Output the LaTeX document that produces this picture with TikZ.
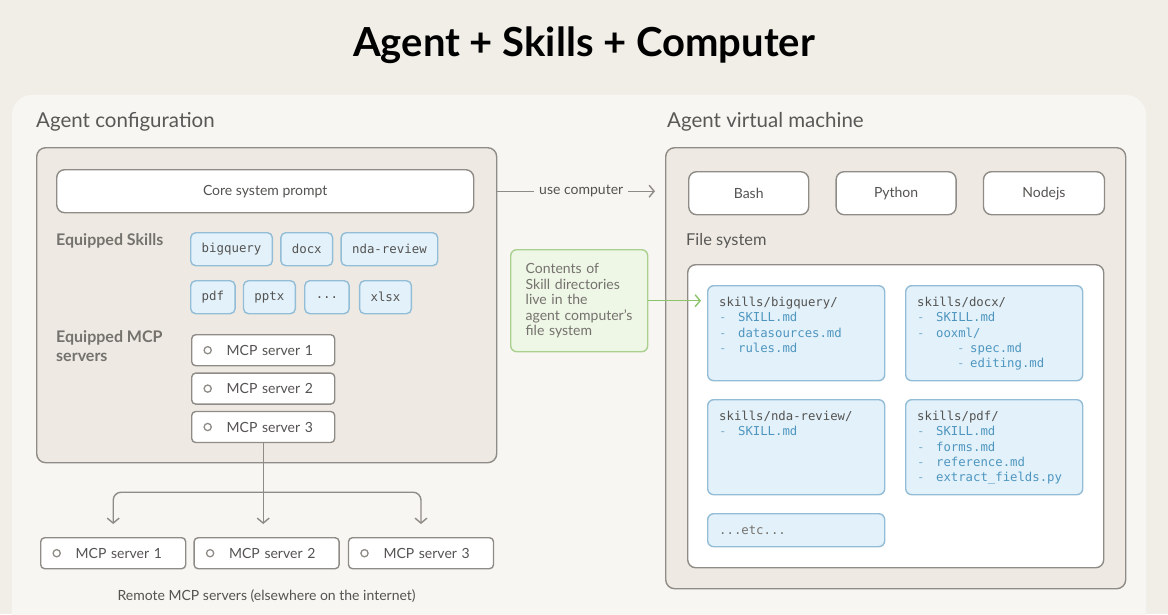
\documentclass[tikz,border=0pt]{standalone}
\usepackage{fontspec}
\setmainfont{Lato}
\setmonofont{DejaVu Sans Mono}
\usetikzlibrary{arrows.meta, positioning}
\definecolor{skouter}{HTML}{F1EEE8}
\definecolor{skpanelbg}{HTML}{F8F6F2}
\definecolor{skbox}{HTML}{EEEAE3}
\definecolor{skline}{HTML}{8F8C87}
\definecolor{sktext}{HTML}{545351}
\definecolor{skhead}{HTML}{595856}
\definecolor{sklabel}{HTML}{74726D}
\definecolor{skchip}{HTML}{E2F1FA}
\definecolor{skchipline}{HTML}{93BDD6}
\definecolor{skfile}{HTML}{4F96BF}
\definecolor{skdash}{HTML}{7DB0CF}
\definecolor{skgreen}{HTML}{EEF6E6}
\definecolor{skgreenline}{HTML}{A9D08F}
\definecolor{skgreenarrow}{HTML}{8CC46C}
\tikzset{
  >={Straight Barb[length=5pt, width=12pt]},
  box/.style={rectangle, rounded corners=8pt, draw=skline, fill=white, line width=1.4pt,
              align=center, inner sep=0pt, text=sktext, font=\fontsize{14}{16}\selectfont},
  frame/.style={box, fill=skbox, rounded corners=9pt, anchor=north west},
  tool/.style={box, minimum width=120pt, minimum height=43pt},
  chip/.style={box, rounded corners=5pt, draw=skchipline, fill=skchip, minimum height=33pt,
               inner xsep=11pt, font=\ttfamily\fontsize{12.4}{14}\selectfont},
  mcp/.style={box, rounded corners=4pt, minimum height=31pt, text width=123pt, inner xsep=10pt,
              align=left, path picture={\draw[skline, line width=1.3pt]
              ([xshift=16pt]path picture bounding box.west) circle (3.6pt);}},
  tree/.style={box, rounded corners=6pt, draw=skchipline, fill=skchip, minimum width=177pt,
               anchor=north west},
  treetext/.style={anchor=north west, inner sep=0pt, align=left, text=sktext,
                   font=\ttfamily\fontsize{12.3}{15.3}\selectfont},
  heading/.style={inner sep=0pt, text=skhead, font=\fontsize{20.5}{24}\selectfont},
  lbl/.style={inner sep=0pt, align=left, text=sklabel, font=\bfseries\fontsize{16}{19}\selectfont},
  flow/.style={->, line width=1.4pt, draw=skline},
  flowg/.style={->, line width=1.4pt, draw=skgreenarrow},
}
\newcommand{\fitem}[1]{\textcolor{skdash}{-}\hspace*{11.5pt}\textcolor{skfile}{#1}}
\newcommand{\fsub}[1]{\hspace*{40pt}\textcolor{skdash}{-}\hspace*{5.6pt}\textcolor{skfile}{#1}}

\begin{document}
\begin{tikzpicture}[x=1pt, y=-1pt]
    \useasboundingbox (0,0) rectangle (1168,614);
    \fill[skouter] (0,0) rectangle (1168,614);
    \fill[skpanelbg, rounded corners=20pt] (12,95) rectangle (1146,650);

    % title
    \node[inner sep=0pt, font=\bfseries\fontsize{40}{44}\selectfont, text=black] (title) at (584,45) {Agent + Skills + Computer};

    % left side: agent configuration
    \node[heading, anchor=base west] (cfghead) at (36,127) {Agent configuration};
    \node[frame, minimum width=460pt, minimum height=315pt] (cfg) at (36,147) {};
    \node[box, anchor=north west, minimum width=417pt, minimum height=43pt] (core) at (56,169) {Core system prompt};

    \node[lbl, anchor=west] (skillslbl) at (56,241) {Equipped Skills};
    \node[chip, anchor=north west] (bq) at (190,232) {bigquery};
    \node[chip, right=7pt of bq] (docx) {docx};
    \node[chip, right=7pt of docx] (nda) {nda-review};
    \node[chip, anchor=north west] (pdf) at (190,280) {pdf};
    \node[chip, right=7pt of pdf] (pptx) {pptx};
    \node[chip, right=8pt of pptx] (more) {...};
    \node[chip, right=9pt of more] (xlsx) {xlsx};

    \node[lbl, anchor=north west] (mcplbl) at (56,330) {Equipped MCP\\servers};
    \node[mcp, anchor=north west] (srva) at (191,334) {\hspace*{25pt}MCP server 1};
    \node[mcp, below=6pt of srva] (srvb) {\hspace*{25pt}MCP server 2};
    \node[mcp, below=6pt of srvb] (srvc) {\hspace*{25pt}MCP server 3};

    % remote servers
    \node[mcp, anchor=north west, text width=125pt] (rema) at (40,537) {\hspace*{25pt}MCP server 1};
    \node[mcp, right=7pt of rema, text width=125pt] (remb) {\hspace*{25pt}MCP server 2};
    \node[mcp, right=8pt of remb, text width=125pt] (remc) {\hspace*{25pt}MCP server 3};
    \node[inner sep=0pt, text=sktext, font=\fontsize{14}{16}\selectfont, below=20pt of remb] (remcap)
      {Remote MCP servers (elsewhere on the internet)};

    \path (srvc.south) ++(0,49) coordinate (fork);
    \draw[flow, shorten >=13pt] (srvc.south) -- (fork) -- (fork |- remb.north);
    \draw[flow, rounded corners=8pt, shorten >=13pt] (fork) -| (rema.north);
    \draw[flow, rounded corners=8pt, shorten >=13pt] (fork) -| (remc.north);

    % right side: agent virtual machine
    \node[heading, anchor=base west] (vmhead) at (667,127) {Agent virtual machine};
    \node[frame, minimum width=460pt, minimum height=441pt] (vm) at (665,147) {};
    \node[tool, anchor=north west] (bash) at (688,171) {Bash};
    \node[tool, right=26pt of bash] (py) {Python};
    \node[tool, right=26pt of py, minimum width=121pt] (nodejs) {Nodejs};

    \node[inner sep=0pt, text=skhead, font=\fontsize{16.4}{19}\selectfont, anchor=west] (fslbl) at (686,241) {File system};
    \node[box, anchor=north west, minimum width=416pt, minimum height=303pt] (fs) at (687,264) {};

    \node[tree, minimum height=95pt] (fbq) at (707,285) {};
    \node[tree, minimum height=95pt] (fdocx) at (905,285) {};
    \node[tree, minimum height=95pt] (fnda) at (707,399) {};
    \node[tree, minimum height=95pt] (fpdf) at (905,399) {};
    \node[tree, minimum height=33pt] (fetc) at (707,513) {};

    \node[treetext] at ([shift={(12,12)}]fbq.north west)
      {skills/bigquery/\\\fitem{SKILL.md}\\\fitem{datasources.md}\\\fitem{rules.md}};
    \node[treetext] at ([shift={(12,12)}]fdocx.north west)
      {skills/docx/\\\fitem{SKILL.md}\\\fitem{ooxml/}\\\fsub{spec.md}\\\fsub{editing.md}};
    \node[treetext] at ([shift={(12,12)}]fnda.north west)
      {skills/nda-review/\\\fitem{SKILL.md}};
    \node[treetext] at ([shift={(12,12)}]fpdf.north west)
      {skills/pdf/\\\fitem{SKILL.md}\\\fitem{forms.md}\\\fitem{reference.md}\\\fitem{extract\_fields.py}};
    \node[treetext, anchor=west, text=sklabel] at ([xshift=12pt]fetc.west) {...etc...};

    % connectors between the two sides
    \draw[flow, shorten >=10pt] (cfg.east |- core.east) -- node[fill=skpanelbg, inner xsep=5pt, inner ysep=2pt,
      text=sktext, font=\fontsize{14}{16}\selectfont] {use computer} (vm.west |- core.east);

    \node[box, anchor=north west, rounded corners=6pt, draw=skgreenline, fill=skgreen, minimum height=102pt,
          text width=107pt, inner xsep=15pt, align=left, text=sklabel, font=\fontsize{14}{15.5}\selectfont] (note) at (510,249)
      {Contents of\\Skill directories\\live in the\\agent computer's\\file system};
    \draw[flowg, shorten >=6pt] (note.east) -- (note.east -| fbq.west);
\end{tikzpicture}
\end{document}
